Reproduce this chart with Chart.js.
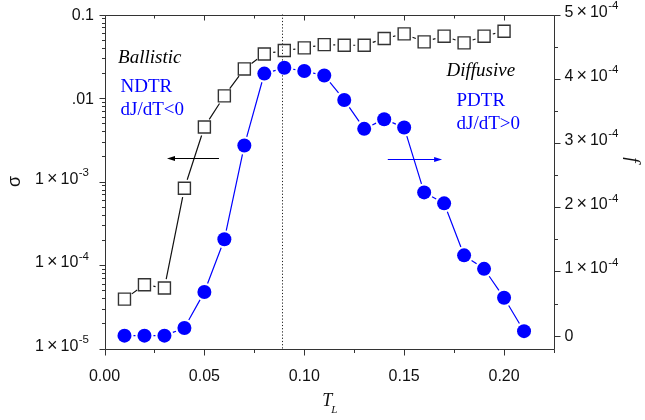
<!DOCTYPE html>
<html><head><meta charset="utf-8">
<script src="https://cdn.jsdelivr.net/npm/chart.js@4"></script>
<style>html,body{margin:0;padding:0;background:#fff}canvas{display:block}</style>
</head><body>
<canvas id="c" width="645" height="420"></canvas>
<script>
// ---- data ----
const sigmaT = [0.01,0.02,0.03,0.04,0.05,0.06,0.07,0.08,0.09,0.10,0.11,0.12,0.13,0.14,0.15,0.16,0.17,0.18,0.19,0.20];
const sigmaValues = [3.9e-5,5.8e-5,5.3e-5,8.3e-4,4.5e-3,0.0106,0.0223,0.0337,0.037,0.0398,0.0436,0.0428,0.0428,0.0515,0.0586,0.047,0.055,0.0457,0.055,0.063];
const fT = [0.01,0.02,0.03,0.04,0.05,0.06,0.07,0.08,0.09,0.10,0.11,0.12,0.13,0.14,0.15,0.16,0.17,0.18,0.19,0.20,0.21];
const fValues = [0,0,0,1.2e-5,6.8e-5,1.50e-4,2.96e-4,4.08e-4,4.17e-4,4.12e-4,4.05e-4,3.67e-4,3.22e-4,3.37e-4,3.24e-4,2.23e-4,2.06e-4,1.25e-4,1.04e-4,0.59e-4,0.07e-4];
const xTicks = [0,0.05,0.10,0.15,0.20];
const xTickLabels = ['0.00','0.05','0.10','0.15','0.20'];
const xMinorTicks = [0.025,0.075,0.125,0.175,0.225];
const sigmaTicks = [1e-5,1e-4,1e-3,1e-2,1e-1];
// [mantissa, exponent] ; exponent '' = plain text
const sigmaTickLabels = [['1','-5'],['1','-4'],['1','-3'],['.01',''],['0.1','']];
const fTicks = [0,1e-4,2e-4,3e-4,4e-4,5e-4];
const fTickLabels = [['0',''],['1','-4'],['2','-4'],['3','-4'],['4','-4'],['5','-4']];
const fMinorTicks = [0.5e-4,1.5e-4,2.5e-4,3.5e-4,4.5e-4];
const transitionT = 0.089;
const xTitle = 'T', xTitleSub = 'L';
const yTitle = 'σ', y2Title = 'f';
const notesLeft = [{t:'Ballistic', x:0.0068, y:4.25e-4, italic:true, color:'#000'},
                   {t:'NDTR', x:0.008, y:3.80e-4, italic:false, color:'#0000ff'},
                   {t:'dJ/dT<0', x:0.008, y:3.43e-4, italic:false, color:'#0000ff'}];
const notesRight = [{t:'Diffusive', x:0.1712, y:4.05e-4, italic:true, color:'#000'},
                    {t:'PDTR', x:0.1762, y:3.58e-4, italic:false, color:'#0000ff'},
                    {t:'dJ/dT>0', x:0.1762, y:3.21e-4, italic:false, color:'#0000ff'}];
const arrows = [{from:[0.0573,2.77e-4], to:[0.0313,2.77e-4], color:'#000'},
                {from:[0.1418,2.75e-4], to:[0.1690,2.75e-4], color:'#0000ff'}];

const AX = '#333';
const SANS = '"Liberation Sans", Arial, sans-serif';
const tickFont = {family:SANS, size:16};

// draws "m", or "m × 10^e" with a real superscript
function drawLabel(ctx, lab, x, y, align){
  const [m, e] = lab;
  ctx.textBaseline = 'alphabetic'; ctx.textAlign = 'left';
  ctx.font = '16px ' + SANS;
  const wm = ctx.measureText(m).width;
  if (!e){
    const left = align === 'right' ? x - wm : x;
    ctx.fillText(m, left, y + 5.8);
    return;
  }
  const w10 = ctx.measureText('10').width;
  ctx.font = '18px ' + SANS;
  const wx = ctx.measureText('×').width;
  ctx.font = '11.5px ' + SANS;
  const we = ctx.measureText(e).width;
  const gap = 3;
  const total = wm + gap + wx + gap + w10 + 0.5 + we;
  let cx = align === 'right' ? x - total : x;
  const base = y + 2;
  ctx.font = '16px ' + SANS; ctx.fillText(m, cx, base); cx += wm + gap;
  ctx.font = '18px ' + SANS; ctx.fillText('×', cx, base); cx += wx + gap;
  ctx.font = '16px ' + SANS; ctx.fillText('10', cx, base); cx += w10 + 0.5;
  ctx.font = '11.5px ' + SANS; ctx.fillText(e, cx, base - 7.5);
}

const decor = {
  id:'decor',
  beforeDatasetsDraw(chart){
    const ctx = chart.ctx, a = chart.chartArea;
    const xs = chart.scales.x, y2 = chart.scales.y2;
    ctx.save();
    ctx.strokeStyle = '#222'; ctx.lineWidth = 1; ctx.setLineDash([1.2,2]);
    const px = Math.round(xs.getPixelForValue(transitionT)) + 0.5;
    ctx.beginPath(); ctx.moveTo(px, a.top); ctx.lineTo(px, a.bottom); ctx.stroke();
    ctx.restore();
    chart.data.datasets.forEach((ds,i)=>{
      const pts = chart.getDatasetMeta(i).data;
      ctx.save();
      ctx.strokeStyle = ds.lineColor; ctx.lineWidth = ds.lineW;
      ctx.beginPath();
      for (let k=0;k<pts.length-1;k++){
        const p=pts[k], q=pts[k+1];
        const dx=q.x-p.x, dy=q.y-p.y, L=Math.hypot(dx,dy), g=ds.gap;
        if (L-2*g < 1) continue;
        const ux=dx/L, uy=dy/L;
        ctx.moveTo(p.x+ux*g, p.y+uy*g); ctx.lineTo(q.x-ux*g, q.y-uy*g);
      }
      ctx.stroke(); ctx.restore();
    });
    arrows.forEach(ar=>{
      const x1=xs.getPixelForValue(ar.from[0]), y1=Math.round(y2.getPixelForValue(ar.from[1]))+0.5;
      const x2=xs.getPixelForValue(ar.to[0]);
      const dir = Math.sign(x2-x1);
      ctx.save(); ctx.strokeStyle=ar.color; ctx.fillStyle=ar.color; ctx.lineWidth=1;
      ctx.beginPath(); ctx.moveTo(x1,y1); ctx.lineTo(x2-dir*3,y1); ctx.stroke();
      ctx.beginPath(); ctx.moveTo(x2,y1); ctx.lineTo(x2-dir*8,y1-2.5); ctx.lineTo(x2-dir*8,y1+2.5); ctx.closePath(); ctx.fill();
      ctx.restore();
    });
    ctx.save(); ctx.textBaseline='alphabetic'; ctx.textAlign='left';
    [...notesLeft,...notesRight].forEach(n=>{
      ctx.font = (n.italic?'italic ':'') + '19px "Liberation Serif", "Times New Roman", serif';
      ctx.fillStyle = n.color;
      ctx.fillText(n.t, xs.getPixelForValue(n.x), y2.getPixelForValue(n.y));
    });
    ctx.restore();
  },
  afterDraw(chart){
    const ctx = chart.ctx, a = chart.chartArea;
    const xs = chart.scales.x, ys = chart.scales.y, y2 = chart.scales.y2;
    ctx.save();
    ctx.strokeStyle = AX; ctx.lineWidth = 1;
    const L = Math.round(a.left)+0.5, R = Math.round(a.right)+0.5, T = Math.round(a.top)+0.5, B = Math.round(a.bottom)+0.5;
    ctx.beginPath();
    ctx.moveTo(L,T); ctx.lineTo(R,T); ctx.lineTo(R,B); ctx.lineTo(L,B); ctx.closePath();
    xTicks.forEach(v=>{const p=Math.round(xs.getPixelForValue(v))+0.5; ctx.moveTo(p,B); ctx.lineTo(p,B+6); ctx.moveTo(p,T); ctx.lineTo(p,T+5);});
    xMinorTicks.forEach(v=>{const p=Math.round(xs.getPixelForValue(v))+0.5; ctx.moveTo(p,B); ctx.lineTo(p,B+3.5); ctx.moveTo(p,T); ctx.lineTo(p,T+3);});
    sigmaTicks.forEach(v=>{const p=Math.round(ys.getPixelForValue(v))+0.5; ctx.moveTo(L,p); ctx.lineTo(L-6,p);});
    for (let d=-5; d<-1; d++) for (let k=2;k<=9;k++){
      const p=Math.round(ys.getPixelForValue(k*Math.pow(10,d)))+0.5; ctx.moveTo(L,p); ctx.lineTo(L-3.5,p);
    }
    fTicks.forEach(v=>{const p=Math.round(y2.getPixelForValue(v))+0.5; ctx.moveTo(R,p); ctx.lineTo(R+6,p);});
    fMinorTicks.forEach(v=>{const p=Math.round(y2.getPixelForValue(v))+0.5; ctx.moveTo(R,p); ctx.lineTo(R+3.5,p);});
    ctx.stroke();
    ctx.fillStyle = '#111';
    sigmaTicks.forEach((v,i)=>{
      const lab = sigmaTickLabels[i];
      drawLabel(ctx, lab, lab[1] ? 89 : 94, ys.getPixelForValue(v), 'right');
    });
    fTicks.forEach((v,i)=>{
      drawLabel(ctx, fTickLabels[i], R + 10, y2.getPixelForValue(v), 'left');
    });
    ctx.font = 'italic 18px "Liberation Serif", "Times New Roman", serif';
    ctx.textAlign='left'; ctx.textBaseline='alphabetic';
    const cx = (a.left+a.right)/2;
    ctx.fillText(xTitle, cx-7, 406);
    ctx.font = 'italic 11px "Liberation Serif", "Times New Roman", serif';
    ctx.fillText(xTitleSub, cx+2, 413);
    ctx.save();
    ctx.translate(20, (a.top+a.bottom)/2); ctx.rotate(-Math.PI/2);
    ctx.font = '18px ' + SANS; ctx.textAlign='center';
    ctx.fillText(yTitle, 0, 0);
    ctx.restore();
    ctx.save();
    ctx.translate(627, 160); ctx.rotate(Math.PI/2);
    ctx.font = 'italic 19px "Liberation Serif", "Times New Roman", serif'; ctx.textAlign='center';
    ctx.fillText(y2Title, 0, 0);
    ctx.restore();
    ctx.restore();
  }
};

new Chart(document.getElementById('c'), {
  type:'scatter',
  data:{datasets:[
    {label:'sigma', data: sigmaT.map((t,i)=>({x:t,y:sigmaValues[i]})), yAxisID:'y',
     pointStyle:'rect', pointRadius:8.5, pointHoverRadius:8.5, pointBackgroundColor:'rgba(255,255,255,0)', pointBorderColor:'#333', pointBorderWidth:1.4,
     showLine:false, lineColor:'#111', lineW:1.2, gap:9},
    {label:'f', data: fT.map((t,i)=>({x:t,y:fValues[i]})), yAxisID:'y2',
     pointStyle:'circle', pointRadius:7, pointHoverRadius:7, pointBackgroundColor:'#0000ff', pointBorderColor:'#0000ff', pointBorderWidth:0,
     showLine:false, lineColor:'#0000ff', lineW:1.2, gap:9}
  ]},
  options:{
    responsive:false, devicePixelRatio:1, animation:false,
    layout:{padding:{top:14.5,left:0,right:0,bottom:0}},
    plugins:{legend:{display:false}, tooltip:{enabled:false}},
    scales:{
      x:{type:'linear', min:0, max:0.225, position:'bottom',
         grid:{display:false}, border:{display:false},
         afterBuildTicks:s=>{s.ticks = xTicks.map(v=>({value:v}));},
         afterFit:s=>{s.height = 71.5;},
         ticks:{padding:10, color:'#111', font:tickFont, maxRotation:0, autoSkip:false, callback:(v,i)=>xTickLabels[i]}},
      y:{type:'logarithmic', min:1e-5, max:0.1, position:'left',
         grid:{display:false}, border:{display:false},
         afterBuildTicks:s=>{s.ticks = sigmaTicks.map(v=>({value:v}));},
         afterFit:s=>{s.width = 104.5;},
         ticks:{display:false}},
      y2:{type:'linear', min:-2.0e-5, max:5e-4, position:'right',
         grid:{display:false}, border:{display:false},
         afterBuildTicks:s=>{s.ticks = fTicks.map(v=>({value:v}));},
         afterFit:s=>{s.width = 91;},
         ticks:{display:false}}
    }
  },
  plugins:[decor]
});
</script>
</body></html>
